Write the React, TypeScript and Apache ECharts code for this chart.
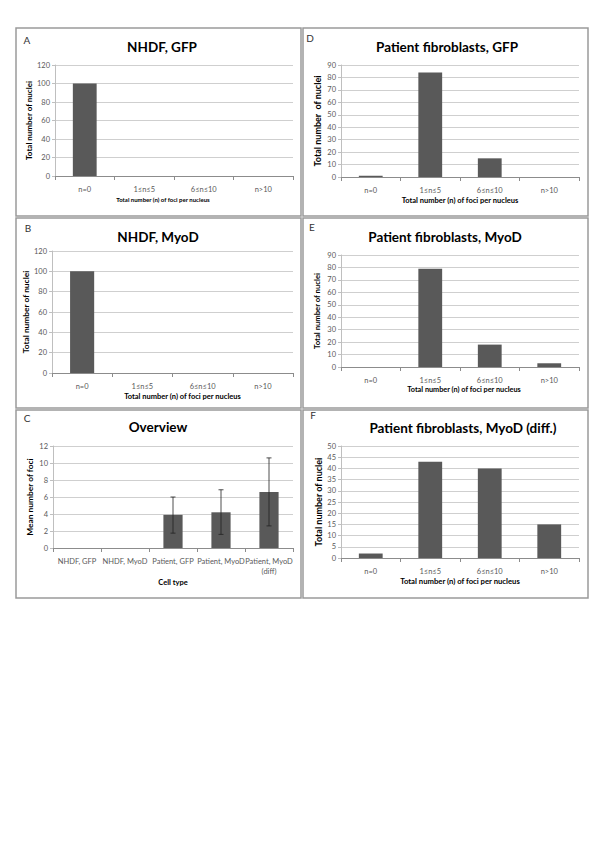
import React, { useEffect, useRef } from 'react';
import * as echarts from 'echarts';

// ---------- data ----------
const fociCategories = ['n=0', '1≤n≤5', '6≤n≤10', 'n>10'];
const nhdfGfp = [100, 0, 0, 0];
const nhdfMyoD = [100, 0, 0, 0];
const patientGfp = [1, 84, 15, 0];
const patientMyoD = [0, 79, 18, 3];
const patientMyoDDiff = [2, 43, 40, 15];

const overviewCategories = ['NHDF, GFP', 'NHDF, MyoD', 'Patient, GFP', 'Patient, MyoD', 'Patient, MyoD\n(diff)'];
const overviewMeans = [0, 0, 3.9, 4.2, 6.6];
const overviewLow = [null, null, 1.75, 1.6, 2.6];
const overviewHigh = [null, null, 6.0, 6.85, 10.6];

// ---------- layout ----------
const FONT = 'Lato, "Noto Sans", sans-serif';
const BAR = '#595959';

type Panel = {
  box: number[]; letter: string; letterPos: number[]; title: string; titlePos: number[];
  grid: { left: number; top: number; width: number; height: number };
  yMax: number; yInterval: number; yName: string; yGap: number; yNameSize: number;
  xName: string; xGap: number; xNameSize: number; xNamePad: number[];
  categories: string[]; values: number[]; catSize: number;
};

const panels: Panel[] = [
  { box: [16, 28, 285, 188], letter: 'A', letterPos: [27, 40], title: 'NHDF, GFP', titlePos: [162, 47],
    grid: { left: 55, top: 65, width: 238, height: 111 }, yMax: 120, yInterval: 20,
    yName: 'Total number of nuclei', yGap: 21, yNameSize: 8, xName: 'Total number (n) of foci per nucleus', xGap: 20, xNameSize: 6, xNamePad: [0, 22, 0, 0],
    categories: fociCategories, values: nhdfGfp, catSize: 7.5 },
  { box: [303, 28, 285, 188], letter: 'D', letterPos: [310, 38], title: 'Patient fibroblasts, GFP', titlePos: [447, 47],
    grid: { left: 341, top: 65, width: 238, height: 112 }, yMax: 90, yInterval: 10,
    yName: 'Total number  of nuclei', yGap: 19, yNameSize: 9, xName: 'Total number (n) of foci per nucleus', xGap: 19, xNameSize: 7.5, xNamePad: [0, 0, 0, 0],
    categories: fociCategories, values: patientGfp, catSize: 7.5 },
  { box: [16, 218, 285, 190], letter: 'B', letterPos: [28, 228], title: 'NHDF, MyoD', titlePos: [158, 237],
    grid: { left: 52, top: 251, width: 241, height: 122 }, yMax: 120, yInterval: 20,
    yName: 'Total number of nuclei', yGap: 18, yNameSize: 8.4, xName: 'Total number (n) of foci per nucleus', xGap: 19, xNameSize: 7.5, xNamePad: [0, 0, 0, 20],
    categories: fociCategories, values: nhdfMyoD, catSize: 7.5 },
  { box: [303, 218, 285, 190], letter: 'E', letterPos: [312, 227], title: 'Patient fibroblasts, MyoD', titlePos: [445, 237],
    grid: { left: 341, top: 255, width: 238, height: 112 }, yMax: 90, yInterval: 10,
    yName: 'Total number of nuclei', yGap: 20, yNameSize: 7.7, xName: 'Total number (n) of foci per nucleus', xGap: 19, xNameSize: 7.3, xNamePad: [0, 0, 0, 8],
    categories: fociCategories, values: patientMyoD, catSize: 7.5 },
  { box: [16, 410, 285, 188], letter: 'C', letterPos: [27, 418], title: 'Overview', titlePos: [158, 427],
    grid: { left: 53, top: 446, width: 240, height: 102 }, yMax: 12, yInterval: 2,
    yName: 'Mean number of foci', yGap: 19, yNameSize: 8.4, xName: 'Cell type', xGap: 30, xNameSize: 7.5, xNamePad: [0, 0, 0, 0],
    categories: overviewCategories, values: overviewMeans, catSize: 7.5 },
  { box: [303, 410, 285, 188], letter: 'F', letterPos: [313, 415], title: 'Patient fibroblasts, MyoD (diff.)', titlePos: [463, 428],
    grid: { left: 341, top: 446, width: 238, height: 112 }, yMax: 50, yInterval: 5,
    yName: 'Total number of nuclei', yGap: 18, yNameSize: 9, xName: 'Total number (n) of foci per nucleus', xGap: 19, xNameSize: 7.7, xNamePad: [0, 0, 0, 0],
    categories: fociCategories, values: patientMyoDDiff, catSize: 7.5 },
];

function buildOption() {
  const grid: any[] = [];
  const xAxis: any[] = [];
  const yAxis: any[] = [];
  const series: any[] = [];
  const graphic: any[] = [];

  panels.forEach((p, i) => {
    grid.push({ ...p.grid, containLabel: false });
    xAxis.push({
      type: 'category', gridIndex: i, data: p.categories,
      name: p.xName, nameLocation: 'middle', nameGap: p.xGap,
      nameTextStyle: { fontFamily: FONT, fontSize: p.xNameSize, fontWeight: 'bold', color: '#000', padding: p.xNamePad },
      axisLine: { show: true, lineStyle: { color: '#8c8c8c', width: 1 } },
      axisTick: { show: true, length: 4, lineStyle: { color: '#8c8c8c' } },
      axisLabel: { interval: 0, margin: 8, fontFamily: FONT, fontSize: p.catSize, color: '#595959', lineHeight: p.catSize + 3 },
      splitLine: { show: false },
    });
    yAxis.push({
      type: 'value', gridIndex: i, min: 0, max: p.yMax, interval: p.yInterval,
      name: p.yName, nameLocation: 'middle', nameGap: p.yGap,
      nameTextStyle: { fontFamily: FONT, fontSize: p.yNameSize, fontWeight: 'bold', color: '#000' },
      axisLine: { show: true, lineStyle: { color: '#bfbfbf', width: 1 } },
      axisTick: { show: true, length: 3, lineStyle: { color: '#bfbfbf' } },
      axisLabel: { margin: 5, fontFamily: FONT, fontSize: 7.5, color: '#595959' },
      splitLine: { show: true, lineStyle: { color: '#cfcfcf', width: 1 } },
    });
    series.push({
      type: 'bar', xAxisIndex: i, yAxisIndex: i, data: p.values, barWidth: '40%',
      itemStyle: { color: BAR }, silent: true,
    });
    graphic.push({
      type: 'rect', shape: { x: p.box[0], y: p.box[1], width: p.box[2], height: p.box[3] },
      style: { fill: 'none', stroke: '#9a9a9a', lineWidth: 1.5 }, silent: true,
    });
    graphic.push({
      type: 'text', x: p.letterPos[0], y: p.letterPos[1],
      style: { text: p.letter, font: `10px ${FONT}`, fill: '#333', textAlign: 'center', textVerticalAlign: 'middle' },
    });
    graphic.push({
      type: 'text', x: p.titlePos[0], y: p.titlePos[1],
      style: { text: p.title, font: `bold 13.5px ${FONT}`, fill: '#000', textAlign: 'center', textVerticalAlign: 'middle' },
    });
  });

  const errData: any[] = [];
  overviewMeans.forEach((_, k) => {
    if (overviewLow[k] != null && overviewHigh[k] != null) errData.push([k, overviewLow[k], overviewHigh[k]]);
  });
  series.push({
    type: 'custom', xAxisIndex: 4, yAxisIndex: 4, data: errData, encode: { x: 0, y: [1, 2] }, silent: true, z: 5,
    renderItem: (_params: any, api: any) => {
      const x = api.value(0);
      const lo = api.coord([x, api.value(1)]);
      const hi = api.coord([x, api.value(2)]);
      const h = 2.5;
      const st = { stroke: '#222', lineWidth: 0.8 };
      return {
        type: 'group', children: [
          { type: 'line', shape: { x1: lo[0], y1: lo[1], x2: hi[0], y2: hi[1] }, style: st },
          { type: 'line', shape: { x1: lo[0] - h, y1: lo[1], x2: lo[0] + h, y2: lo[1] }, style: st },
          { type: 'line', shape: { x1: hi[0] - h, y1: hi[1], x2: hi[0] + h, y2: hi[1] }, style: st },
        ],
      };
    },
  });

  return { animation: false, backgroundColor: '#fff', grid, xAxis, yAxis, series, graphic };
}

export default function App() {
  const ref = useRef<HTMLDivElement>(null);
  useEffect(() => {
    if (!ref.current) return;
    const chart = echarts.init(ref.current, null, { renderer: 'svg' });
    chart.setOption(buildOption() as any);
    return () => chart.dispose();
  }, []);
  return <div ref={ref} style={{ position: 'absolute', left: 0, top: 0, width: 600, height: 848 }} />;
}
